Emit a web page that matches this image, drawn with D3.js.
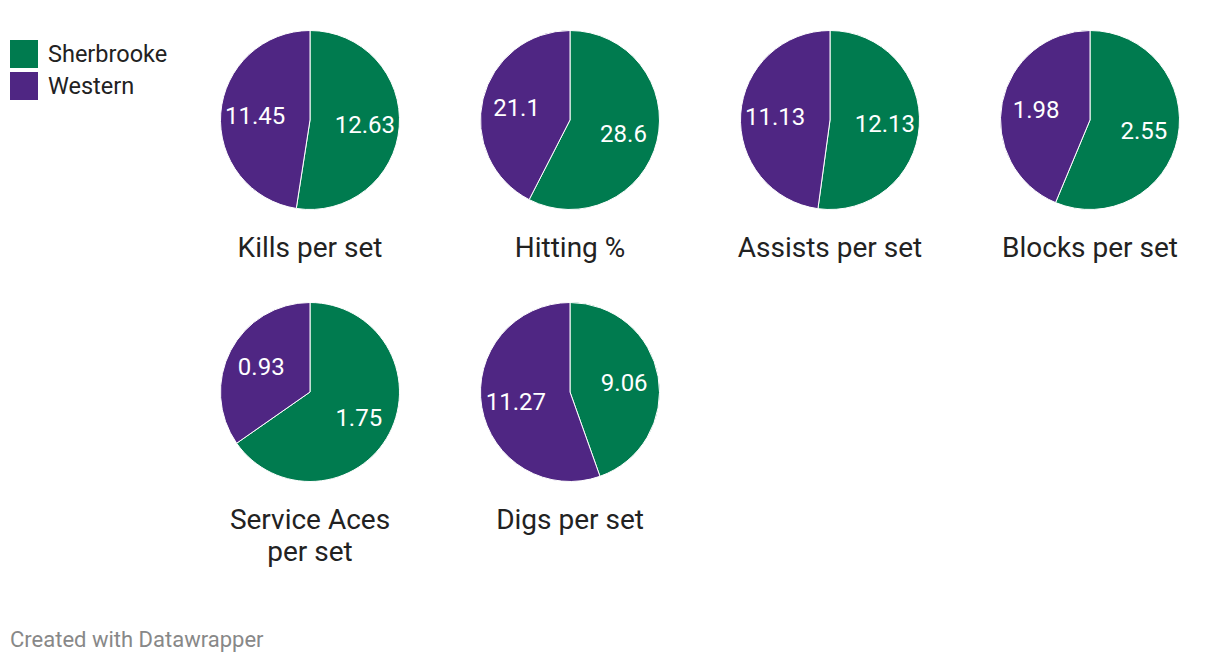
<!DOCTYPE html>
<html><head><meta charset="utf-8">
<script src="https://cdn.jsdelivr.net/npm/d3@7"></script>
<style>body{margin:0;background:#fff;font-family:Roboto,sans-serif}</style>
</head><body><svg id="c" width="1220" height="662"></svg>
<script>
const teams = ["Sherbrooke", "Western"];
const colors = ["#007b4f", "#4f2683"];
const stats = ["Kills per set", "Hitting %", "Assists per set", "Blocks per set", "Service Aces per set", "Digs per set"];
const titleLines = [["Kills per set"], ["Hitting %"], ["Assists per set"], ["Blocks per set"], ["Service Aces", "per set"], ["Digs per set"]];
const sherbrooke = [12.63, 28.6, 12.13, 2.55, 1.75, 9.06];
const western = [11.45, 21.1, 11.13, 1.98, 0.93, 11.27];
const labelText = [["12.63","11.45"],["28.6","21.1"],["12.13","11.13"],["2.55","1.98"],["1.75","0.93"],["9.06","11.27"]];

const svg = d3.select("#c");
const color = d3.scaleOrdinal().domain(teams).range(colors);
const colX = d3.scalePoint().domain([0,1,2,3]).range([310, 1090]);
const rowY = d3.scalePoint().domain([0,1]).range([120, 392]);
const R = 89.5;
const pie = d3.pie().sort(null).value(d => d.v);
const arc = d3.arc().innerRadius(0).outerRadius(R);
const labelArc = d3.arc().innerRadius(55*2 - R).outerRadius(R); // centroid at radius 55

stats.forEach((s, i) => {
  const g = svg.append("g").attr("transform", `translate(${colX(i%4)},${rowY(Math.floor(i/4))})`);
  const data = [{t: teams[0], v: sherbrooke[i], l: labelText[i][0]}, {t: teams[1], v: western[i], l: labelText[i][1]}];
  const arcs = pie(data);
  g.selectAll("path").data(arcs).join("path")
    .attr("d", arc).attr("fill", d => color(d.data.t))
    .attr("stroke", "#fff").attr("stroke-width", 1);
  g.selectAll("text.v").data(arcs).join("text").attr("class","v")
    .attr("transform", d => `translate(${labelArc.centroid(d)})`)
    .attr("text-anchor", "middle").attr("dy", "0.36em")
    .attr("fill", "#fff").attr("font-size", 24).text(d => d.data.l);
  const tl = g.append("text").attr("text-anchor", "middle").attr("fill", "#222").attr("font-size", 28);
  titleLines[i].forEach((line, j) => {
    tl.append("tspan").attr("x", 0).attr("y", 136.5 + j*32).text(line);
  });
});

const leg = svg.append("g").attr("transform", "translate(10,40)");
teams.forEach((t, i) => {
  leg.append("rect").attr("x", 0).attr("y", i*32).attr("width", 28).attr("height", 28).attr("fill", color(t));
  leg.append("text").attr("x", 38).attr("y", i*32 + 22).attr("font-size", 23.5).attr("fill", "#222").text(t);
});

svg.append("text").attr("x", 10).attr("y", 646.5).attr("font-size", 22).attr("fill", "#888").text("Created with Datawrapper");
</script></body></html>
